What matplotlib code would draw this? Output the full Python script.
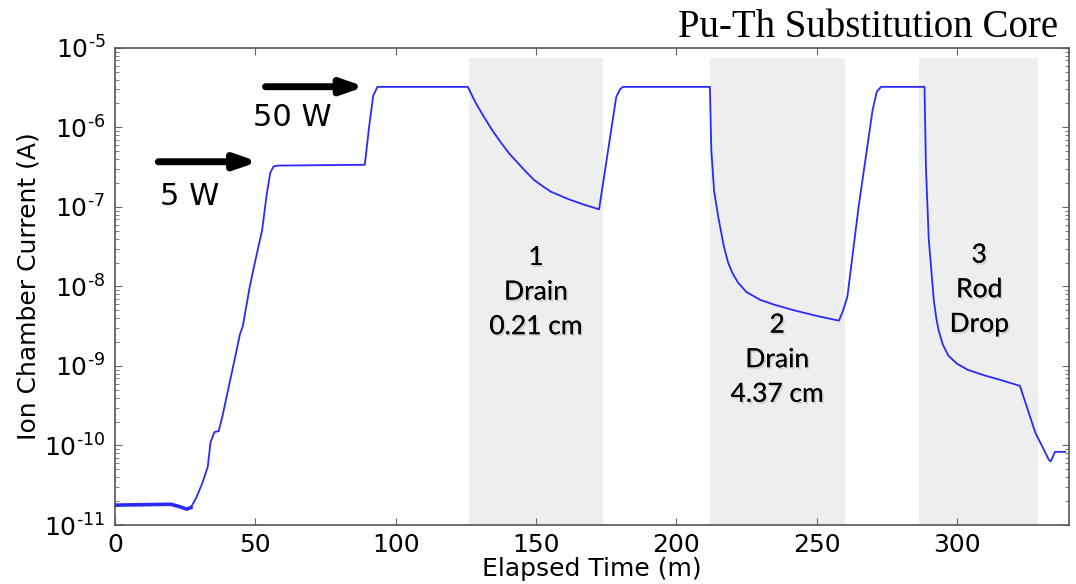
import matplotlib
matplotlib.use("Agg")
import matplotlib.pyplot as plt
import matplotlib.patheffects as pe
import numpy as np

# elapsed time (min) and log10 of ion chamber current (A)
time_min = [0, 18, 20, 23, 25.5, 27, 29, 31, 33, 34, 35.4, 36.9, 38.2, 41, 43, 44.5,
            45.5, 46.5, 48, 50, 52.4, 54, 55.3, 56.5, 58, 89, 90.5, 92, 93.5, 125.7,
            128.5, 131.5, 134.5, 137.5, 140.5, 143.6, 146.5, 149.3, 152.4, 155.4,
            161.4, 167, 172.5, 178.6, 180, 181, 212, 212.5, 213.5, 215, 217, 218.5,
            220, 222, 225, 230, 235, 242, 250, 258, 259.5, 261, 265, 270, 271.5, 273,
            288.5, 289, 290, 291.8, 292.7, 293.5, 295, 297, 300, 304, 310, 316,
            322.5, 328, 331, 332.8, 333.5, 335, 338.6]
log_current = [-10.75, -10.74, -10.74, -10.77, -10.80, -10.78, -10.65, -10.48, -10.27,
               -9.96, -9.83, -9.82, -9.64, -9.18, -8.85, -8.6, -8.5, -8.3, -8.0, -7.67,
               -7.29, -6.85, -6.57, -6.49, -6.48, -6.47, -6.0, -5.6, -5.49, -5.49,
               -5.69, -5.87, -6.04, -6.19, -6.33, -6.45, -6.56, -6.66, -6.74, -6.81,
               -6.90, -6.97, -7.03, -5.62, -5.52, -5.49, -5.49, -6.28, -6.8, -7.13,
               -7.5, -7.7, -7.83, -7.95, -8.07, -8.17, -8.23, -8.30, -8.37, -8.43,
               -8.3, -8.13, -7.0, -5.78, -5.55, -5.49, -5.49, -6.5, -7.4, -8.17,
               -8.4, -8.55, -8.73, -8.87, -8.97, -9.05, -9.12, -9.18, -9.25, -9.84,
               -10.05, -10.18, -10.20, -10.08, -10.08]

# shaded transient windows (min)
shade_start = [126, 212, 286.5]
shade_end = [174, 260, 329]
shade_labels = ["1\nDrain\n0.21 cm", "2\nDrain\n4.37 cm", "3\nRod\nDrop"]
label_x = [150, 236, 308]
label_y = [8.5e-9, 1.2e-9, 9.1e-9]

# power level arrows
power_labels = ["5 W", "50 W"]
arrow_x0 = [15.4, 53.6]
arrow_x1 = [51, 89]
arrow_y = [3.7e-7, 3.25e-6]
power_text_x = [26.4, 63]
power_text_y = [1.35e-7, 1.32e-6]

y_exponents = [-11, -10, -9, -8, -7, -6, -5]
x_ticks = [0, 50, 100, 150, 200, 250, 300]

fig = plt.figure(figsize=(10.76, 5.84), dpi=100)
ax = fig.add_axes([0.107, 0.101, 0.8865, 0.817])

for x0, x1 in zip(shade_start, shade_end):
    ax.axvspan(x0, x1, ymin=0, ymax=0.979, color="#eeeeee", lw=0, zorder=0)

curr = 10 ** np.array(log_current)
ax.plot(time_min, curr, color="#2a2aff", lw=1.3, zorder=3)
# noisy flat baseline before startup looks thicker
ax.plot(time_min[:6], curr[:6], color="#2a2aff", lw=2.6, zorder=3)

shadow = [pe.withSimplePatchShadow(offset=(1.2, -1.5), alpha=0.12), pe.Normal()]
for txt, x, y in zip(shade_labels, label_x, label_y):
    ax.text(x, y, txt, ha="center", va="center", fontsize=19, family="Lato",
            linespacing=1.48, zorder=4, path_effects=shadow)

for lab, x0, x1, y, tx, ty in zip(power_labels, arrow_x0, arrow_x1, arrow_y,
                                  power_text_x, power_text_y):
    ax.annotate("", xy=(x1, y), xytext=(x0, y),
                arrowprops=dict(arrowstyle="-|>,head_length=1.3,head_width=0.45",
                                lw=5, color="black", shrinkA=0, shrinkB=0))
    ax.text(tx, ty, lab, ha="center", va="center", fontsize=22)

ax.set_yscale("log")
ax.set_xlim(0, 340)
ax.set_ylim(1e-11, 1e-5)
ax.set_xticks(x_ticks)
ax.set_yticks([10.0 ** e for e in y_exponents])
# short hyphen in the exponent, like the original
ax.set_yticklabels(["$\\mathregular{10^{\u2010%d}}$" % -e for e in y_exponents])
ax.tick_params(which="both", direction="in", top=True, right=True, labelsize=18,
               color="#666666")
ax.tick_params(which="major", length=5)
ax.tick_params(which="minor", length=3)
ax.tick_params(axis="x", pad=6)
ax.tick_params(axis="y", pad=7)
for s in ax.spines.values():
    s.set_color("#555555")
    s.set_linewidth(1.2)

ax.set_xlabel("Elapsed Time (m)", fontsize=18, labelpad=0)
ax.set_ylabel("Ion Chamber Current (A)", fontsize=18, labelpad=2.5)

fig.text(0.983, 0.9366, "Pu-Th Substitution Core", ha="right", va="baseline",
         fontsize=28, family="Liberation Serif")

fig.savefig("out.png", dpi=100)
